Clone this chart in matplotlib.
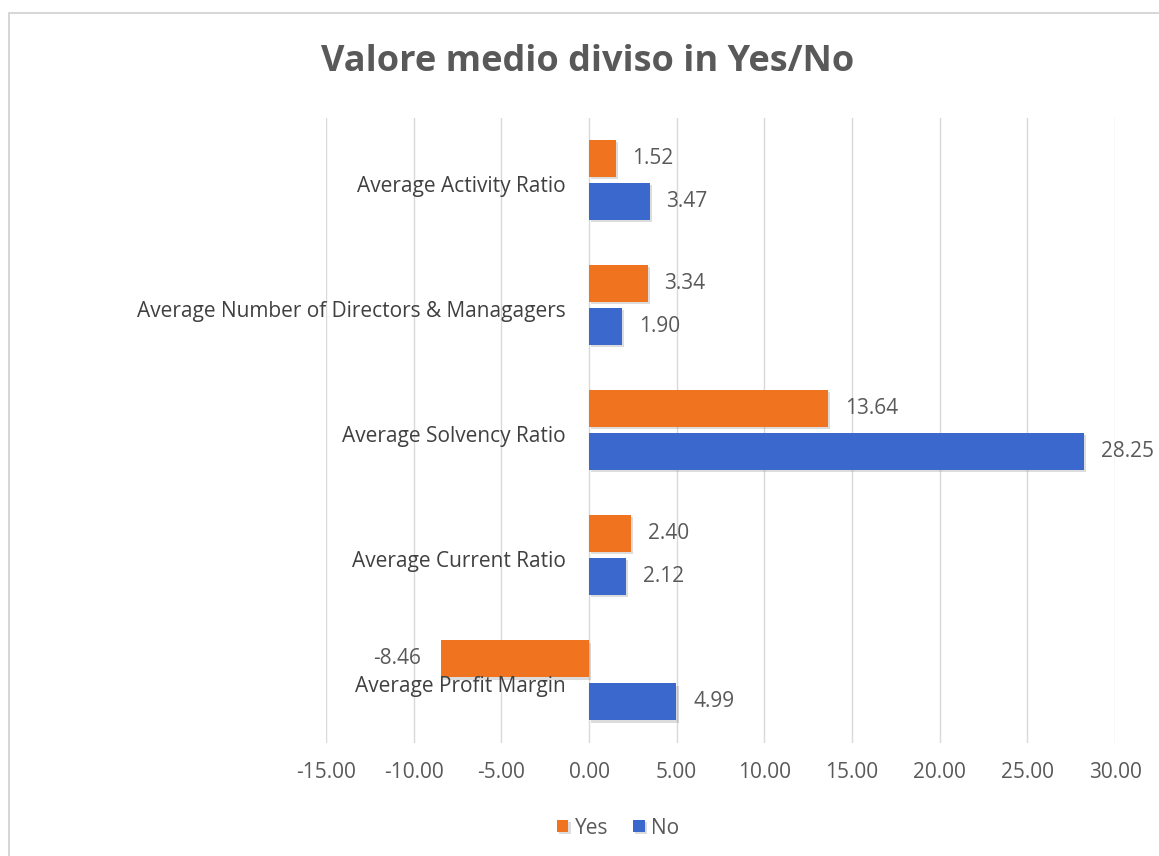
import matplotlib
matplotlib.use("Agg")
import matplotlib.pyplot as plt
import matplotlib.patheffects as pe
from matplotlib.patches import Rectangle
from matplotlib.ticker import FuncFormatter
import numpy as np

# Data: category means split by the Yes/No answer
categories = [
    "Average Activity Ratio",
    "Average Number of Directors & Managagers",
    "Average Solvency Ratio",
    "Average Current Ratio",
    "Average Profit Margin",
]
yes_values = [1.52, 3.34, 13.64, 2.40, -8.46]
no_values = [3.47, 1.90, 28.25, 2.12, 4.99]
x_ticks = [-15, -10, -5, 0, 5, 10, 15, 20, 25, 30]

ORANGE = "#F0741F"
BLUE = "#3A68CC"
TEXT_GREY = "#595959"
LABEL_DARK = "#404040"
GRID = "#D9D9D9"
FONT = ["Open Sans", "DejaVu Sans"]
TEXT_SIZE = 15

plt.rcParams["font.family"] = FONT

fig = plt.figure(figsize=(11.59, 8.56), dpi=100)
fig.patch.set_facecolor("white")

# Chart border (top and left edges visible)
fig.patches.append(Rectangle((9 / 1159, -0.1), 1.2, 1 - 13 / 856 + 0.1,
                             transform=fig.transFigure, fill=False,
                             edgecolor="#D0D0D0", linewidth=1.2))

ax = fig.add_axes([326 / 1159, 1 - 743 / 856, (1115 - 326) / 1159, (743 - 117.5) / 856])

y = np.arange(len(categories))
bar_h = 0.296
offset = 0.172

shadow = [pe.SimplePatchShadow(offset=(1.5, -1.5), shadow_rgbFace="#777777", alpha=0.25), pe.Normal()]

bars_yes = ax.barh(y - offset, yes_values, height=bar_h, color=ORANGE, label="Yes", zorder=3)
bars_no = ax.barh(y + offset, no_values, height=bar_h, color=BLUE, label="No", zorder=3)
for b in list(bars_yes) + list(bars_no):
    b.set_path_effects(shadow)

# Value labels next to the end of each bar
for bars, vals in ((bars_yes, yes_values), (bars_no, no_values)):
    for b, v in zip(bars, vals):
        yc = b.get_y() + b.get_height() / 2
        if v >= 0:
            ax.annotate(f"{v:.2f}", (v, yc), xytext=(12, 0), textcoords="offset points",
                        ha="left", va="center", fontsize=TEXT_SIZE, color=TEXT_GREY, zorder=4)
        else:
            ax.annotate(f"{v:.2f}", (v, yc), xytext=(-14, 0), textcoords="offset points",
                        ha="right", va="center", fontsize=TEXT_SIZE, color=TEXT_GREY, zorder=4)

# Category labels sit next to the zero axis, over the gridlines
for yi, name in zip(y, categories):
    ax.annotate(name, (0, yi), xytext=(-17, -4.5), textcoords="offset points",
                ha="right", va="center", fontsize=TEXT_SIZE, color=LABEL_DARK, zorder=4)

ax.set_xlim(-15, 30)
ax.set_ylim(len(categories) - 0.5, -0.5)
ax.set_xticks(x_ticks)
ax.xaxis.set_major_formatter(FuncFormatter(lambda v, _: f"{v:.2f}"))
ax.set_yticks([])
ax.tick_params(axis="x", length=0, pad=14, labelsize=TEXT_SIZE, labelcolor=TEXT_GREY)
ax.grid(axis="x", color=GRID, linewidth=1, zorder=0)
ax.set_axisbelow(True)
for s in ax.spines.values():
    s.set_visible(False)

fig.text(588 / 1159, 1 - 62 / 856, "Valore medio diviso in Yes/No", ha="center", va="center",
         fontsize=26, fontweight="bold", color=TEXT_GREY)

fig.legend(handles=[bars_yes, bars_no], labels=["Yes", "No"], loc="center",
           bbox_to_anchor=(618 / 1159, 1 - 828 / 856), ncol=2, frameon=False,
           fontsize=TEXT_SIZE, labelcolor=TEXT_GREY, handlelength=0.55, handleheight=0.55,
           handletextpad=0.3, columnspacing=1.2)

fig.savefig("out.png", dpi=100, facecolor="white")
